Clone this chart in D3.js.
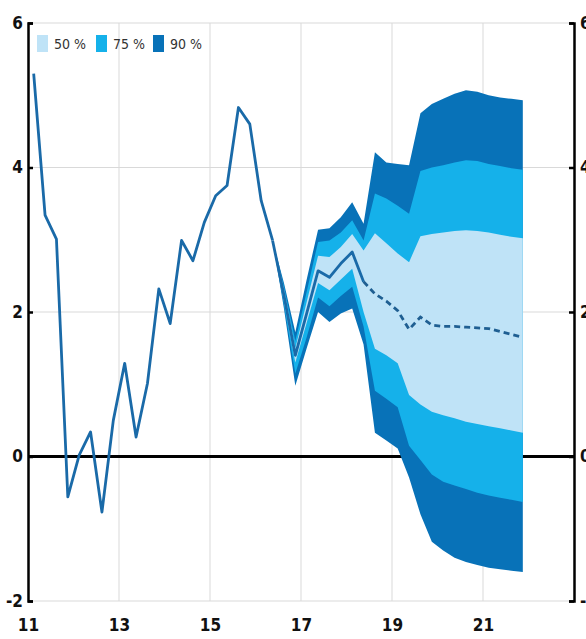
<!DOCTYPE html>
<html>
<head>
<meta charset="utf-8">
<script src="https://cdn.jsdelivr.net/npm/d3@7/dist/d3.min.js"></script>
<style>
  html, body { margin: 0; padding: 0; background: #ffffff; }
  svg { display: block; }
  text { font-family: "Liberation Sans Narrow", "Arial Narrow", "DejaVu Sans Condensed", "Liberation Sans", sans-serif; }
</style>
</head>
<body>
<svg id="chart" width="586" height="639"></svg>
<script>
// ---------------- DATA ----------------
const firstYear = 11;            // axis in two-digit years
const quartersPerYear = 4;
const xTickLabels = [11, 13, 15, 17, 19, 21];
const yTickValues = [-2, 0, 2, 4, 6];
const legendLabels = ["50 %", "75 %", "90 %"];

// Historical quarterly values, 2011Q1 .. 2016Q2 (index 0..21)
const history = [5.30, 3.34, 3.01, -0.56, 0.02, 0.34, -0.77, 0.50, 1.29, 0.27, 1.01,
                 2.32, 1.84, 2.99, 2.71, 3.24, 3.61, 3.75, 4.83, 4.60, 3.54, 2.99];

// Forecast fan, quarterly index 21..43
const fanStart = 21;
const median = [2.99, 2.23, 1.40, 1.98, 2.57, 2.48, 2.67, 2.83, 2.42, 2.25, 2.15, 2.02,
                1.76, 1.93, 1.82, 1.80, 1.80, 1.79, 1.78, 1.77, 1.73, 1.69, 1.65];
const hi90 = [2.99, 2.40, 1.72, 2.45, 3.14, 3.16, 3.31, 3.52, 3.22, 4.21, 4.07, 4.05,
              4.03, 4.75, 4.88, 4.95, 5.02, 5.07, 5.05, 5.00, 4.97, 4.95, 4.93];
const hi75 = [2.99, 2.36, 1.60, 2.28, 2.97, 2.99, 3.10, 3.27, 2.99, 3.64, 3.57, 3.47,
              3.36, 3.95, 4.00, 4.03, 4.07, 4.10, 4.09, 4.05, 4.02, 3.99, 3.97];
const hi50 = [2.99, 2.31, 1.50, 2.14, 2.78, 2.76, 2.90, 3.08, 2.85, 3.09, 2.95, 2.81,
              2.69, 3.05, 3.08, 3.10, 3.12, 3.13, 3.12, 3.10, 3.07, 3.04, 3.02];
const lo50 = [2.99, 2.15, 1.30, 1.85, 2.40, 2.30, 2.45, 2.60, 2.00, 1.49, 1.40, 1.29,
              0.85, 0.72, 0.62, 0.57, 0.53, 0.48, 0.45, 0.42, 0.39, 0.36, 0.33];
const lo75 = [2.99, 2.10, 1.15, 1.65, 2.20, 2.08, 2.22, 2.35, 1.80, 0.91, 0.80, 0.68,
              0.15, -0.05, -0.25, -0.35, -0.40, -0.45, -0.50, -0.54, -0.57, -0.60, -0.63];
const lo90 = [2.99, 2.05, 0.98, 1.50, 2.00, 1.86, 1.98, 2.05, 1.55, 0.33, 0.22, 0.11,
              -0.29, -0.80, -1.18, -1.30, -1.40, -1.46, -1.50, -1.54, -1.56, -1.58, -1.60];
const solidMedianEnd = 29;       // median drawn solid up to this quarter index, dashed after

// ---------------- STYLE ----------------
const colors = { c50: "#bfe3f7", c75: "#15b1ea", c90: "#0872b8", line: "#1a6aa8", dash: "#1f5f92", grid: "#d9d9d9" };

// ---------------- SCALES ----------------
const svg = d3.select("#chart");
const x = d3.scaleLinear().domain([11, 23]).range([28, 574]);
const y = d3.scaleLinear().domain([-2, 6]).range([601, 23]);
const tOf = i => firstYear + (i + 0.5) / quartersPerYear;
const fmt = d => String(d);

const histData = history.map((v, i) => ({ t: tOf(i), v }));
const fanData = median.map((m, k) => {
  const i = fanStart + k;
  return { i, t: tOf(i), m, hi90: hi90[k], hi75: hi75[k], hi50: hi50[k], lo50: lo50[k], lo75: lo75[k], lo90: lo90[k] };
});

// ---------------- GRID ----------------
const grid = svg.append("g");
grid.selectAll("line.h").data([-2, 2, 4, 6]).join("line")
  .attr("x1", x(11)).attr("x2", x(23)).attr("y1", d => y(d)).attr("y2", d => y(d))
  .attr("stroke", colors.grid).attr("stroke-width", 1);
grid.selectAll("line.v").data([13, 15, 17, 19, 21]).join("line")
  .attr("x1", d => x(d)).attr("x2", d => x(d)).attr("y1", y(6)).attr("y2", y(-2))
  .attr("stroke", colors.grid).attr("stroke-width", 1);

// zero line
svg.append("line").attr("x1", x(11)).attr("x2", x(23)).attr("y1", y(0)).attr("y2", y(0))
  .attr("stroke", "#000").attr("stroke-width", 3);

// ---------------- FAN ----------------
const band = (lo, hi) => d3.area().x(d => x(d.t)).y0(d => y(d[lo])).y1(d => y(d[hi]));
svg.append("path").datum(fanData).attr("d", band("lo90", "hi90")).attr("fill", colors.c90);
svg.append("path").datum(fanData).attr("d", band("lo75", "hi75")).attr("fill", colors.c75);
svg.append("path").datum(fanData).attr("d", band("lo50", "hi50")).attr("fill", colors.c50);

// ---------------- LINES ----------------
const line = d3.line().x(d => x(d.t)).y(d => y(d.v));
svg.append("path").datum(histData).attr("d", line)
  .attr("fill", "none").attr("stroke", colors.line).attr("stroke-width", 2.8).attr("stroke-linejoin", "round");

const mLine = d3.line().x(d => x(d.t)).y(d => y(d.m));
svg.append("path").datum(fanData.filter(d => d.i <= solidMedianEnd)).attr("d", mLine)
  .attr("fill", "none").attr("stroke", colors.line).attr("stroke-width", 2.8).attr("stroke-linejoin", "round");
svg.append("path").datum(fanData.filter(d => d.i >= solidMedianEnd)).attr("d", mLine)
  .attr("fill", "none").attr("stroke", colors.dash).attr("stroke-width", 2.8)
  .attr("stroke-dasharray", "6,4");

// ---------------- AXES ----------------
const leftAxis = svg.append("g").attr("transform", `translate(${x(11)},0)`)
  .call(d3.axisLeft(y).tickValues(yTickValues).tickSize(-5).tickPadding(5).tickFormat(fmt));
const rightAxis = svg.append("g").attr("transform", `translate(${x(23)},0)`)
  .call(d3.axisRight(y).tickValues(yTickValues).tickSize(-5).tickPadding(6).tickFormat(fmt));
[leftAxis, rightAxis].forEach(g => {
  g.select(".domain").attr("stroke", "#000").attr("stroke-width", 2.5);
  g.selectAll(".tick line").attr("stroke", "#000").attr("stroke-width", 2.5);
  g.selectAll(".tick text").attr("font-size", 17).attr("font-weight", "bold").attr("fill", "#111");
});

const bottomAxis = svg.append("g").attr("transform", `translate(0,${y(-2)})`)
  .call(d3.axisBottom(x).tickValues(xTickLabels).tickSize(0).tickPadding(18).tickFormat(fmt));
bottomAxis.select(".domain").remove();
bottomAxis.selectAll(".tick text").attr("font-size", 17).attr("font-weight", "bold").attr("fill", "#111");

// ---------------- LEGEND ----------------
const legendColors = [colors.c50, colors.c75, colors.c90];
const legendX = [37, 96, 153];
const legend = svg.append("g");
legendLabels.forEach((lab, k) => {
  legend.append("rect").attr("x", legendX[k]).attr("y", 35).attr("width", 11).attr("height", 17)
    .attr("fill", legendColors[k]);
  legend.append("text").attr("x", legendX[k] + 17).attr("y", 49).text(lab)
    .attr("font-size", 14).attr("fill", "#333");
});
</script>
</body>
</html>
